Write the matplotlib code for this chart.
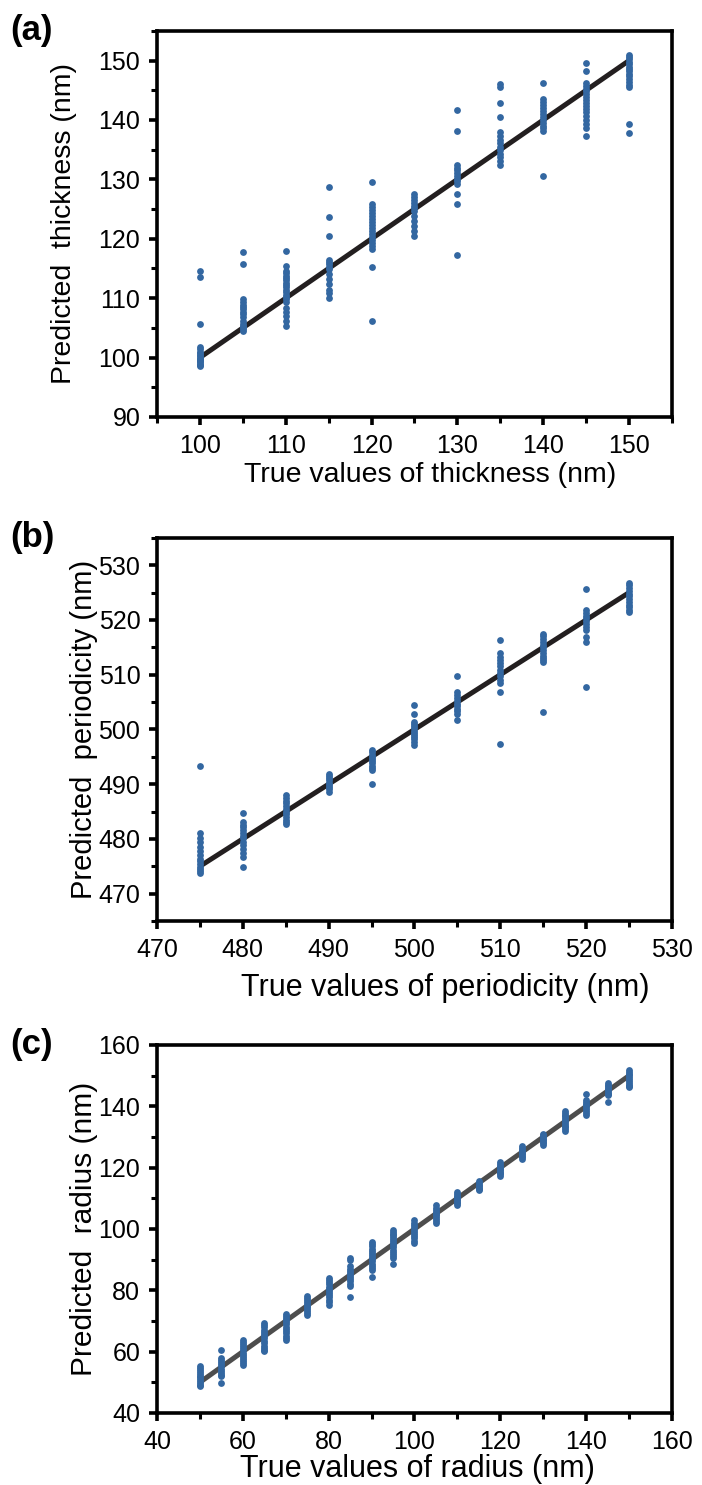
import matplotlib
matplotlib.use("Agg")
import matplotlib.pyplot as plt
from matplotlib.ticker import MultipleLocator

plt.rcParams['font.family'] = ['Liberation Sans', 'DejaVu Sans']

# ---- panel (a): thickness ----
a_true = [100, 105, 110, 115, 120, 125, 130, 135, 140, 145, 150]
a_pred = [
    [114.5, 113.5, 105.7, 101.8, 101.4, 101.0, 100.7, 100.4, 100.2, 100.0, 99.8, 99.6, 99.4, 99.2, 99.0, 98.8, 98.5],
    [117.8, 115.7, 109.8, 109.3, 108.9, 108.5, 108.1, 107.7, 107.3, 106.8, 106.2, 105.7, 105.4, 105.1, 104.8, 104.5],
    [117.9, 115.4, 114.6, 114.2, 113.8, 113.4, 113.0, 112.6, 112.2, 111.8, 111.4, 111.0, 110.6, 110.2, 109.8, 109.4,
     108.3, 107.6, 107.0, 106.2, 105.3],
    [128.8, 123.6, 120.4, 116.5, 116.1, 115.7, 115.3, 114.9, 114.0, 113.2, 112.4, 111.4, 110.8, 110.0],
    [129.5, 125.8, 125.3, 124.8, 124.3, 123.8, 123.3, 122.8, 122.3, 121.8, 121.3, 120.8, 120.3, 119.8, 119.3, 118.8,
     118.3, 115.2, 106.2],
    [127.5, 127.0, 126.5, 126.0, 125.5, 125.1, 124.6, 123.8, 123.0, 122.1, 121.3, 120.4],
    [141.7, 138.2, 132.5, 132.0, 131.5, 131.0, 130.5, 130.1, 129.7, 129.2, 127.6, 125.8, 117.3],
    [146.1, 145.6, 142.8, 140.5, 137.9, 137.3, 136.7, 136.1, 135.5, 134.9, 134.3, 133.7, 133.1, 132.5],
    [146.2, 143.5, 143.0, 142.5, 142.0, 141.5, 141.0, 140.5, 140.0, 139.5, 139.0, 138.6, 138.2, 130.6],
    [149.6, 148.2, 146.3, 145.8, 145.3, 144.8, 144.3, 143.8, 143.3, 142.8, 142.3, 141.8, 141.3, 140.6, 140.0, 139.4,
     138.7, 137.3],
    [151.0, 150.6, 150.2, 149.8, 149.4, 149.0, 148.6, 148.2, 147.8, 147.4, 146.9, 146.4, 145.9, 145.5, 139.3, 137.8],
]

# ---- panel (b): periodicity ----
b_true = [475, 480, 485, 490, 495, 500, 505, 510, 515, 520, 525]
b_pred = [
    [493.3, 481.0, 480.2, 479.4, 478.6, 477.8, 477.0, 476.4, 475.9, 475.4, 474.9, 474.5, 474.1, 473.7],
    [484.8, 483.1, 482.6, 482.1, 481.6, 481.1, 480.6, 480.1, 479.5, 478.9, 478.2, 477.5, 476.7, 474.9],
    [488.0, 487.5, 487.0, 486.5, 486.0, 485.5, 485.0, 484.5, 484.0, 483.5, 483.1, 482.8],
    [491.9, 491.5, 491.1, 490.7, 490.3, 489.9, 489.5, 489.1, 488.6],
    [496.2, 495.8, 495.4, 495.0, 494.6, 494.2, 493.8, 493.4, 493.0, 492.5, 490.1],
    [504.5, 502.9, 501.4, 501.0, 500.6, 500.2, 499.8, 499.4, 499.0, 498.6, 498.2, 497.7, 497.1],
    [509.8, 506.9, 506.2, 505.7, 505.2, 504.7, 504.2, 503.7, 503.3, 502.9, 501.7],
    [516.4, 513.9, 513.3, 512.7, 512.1, 511.5, 510.9, 510.3, 509.7, 509.1, 508.4, 506.9, 497.4],
    [517.5, 517.0, 516.5, 516.0, 515.5, 515.0, 514.5, 514.0, 513.5, 513.0, 512.6, 512.3, 503.1],
    [525.7, 521.8, 521.3, 520.8, 520.3, 519.8, 519.3, 518.7, 518.1, 516.9, 516.0, 507.8],
    [526.8, 526.3, 525.8, 525.3, 524.8, 524.3, 523.8, 523.3, 522.8, 522.3, 521.9, 521.5],
]

# ---- panel (c): radius ----
c_true = [50, 55, 60, 65, 70, 75, 80, 85, 90, 95, 100, 105, 110, 115, 120, 125, 130, 135, 140, 145, 150]
c_pred = [
    [55.2, 54.6, 54.0, 53.4, 52.8, 52.2, 51.6, 51.0, 50.4, 49.8, 49.2, 48.7],
    [60.7, 58.0, 57.3, 56.6, 55.9, 55.2, 54.5, 53.8, 53.1, 52.5, 52.0, 49.8],
    [63.9, 63.2, 62.5, 61.8, 61.1, 60.4, 59.7, 59.0, 58.3, 57.6, 56.9, 56.3, 55.8],
    [69.3, 68.6, 67.9, 67.2, 66.5, 65.8, 65.1, 64.4, 63.6, 62.8, 62.0, 61.2, 60.6, 60.1],
    [72.4, 71.7, 71.0, 70.3, 69.6, 68.9, 68.2, 67.5, 66.8, 66.0, 65.2, 64.5, 63.9],
    [78.0, 77.4, 76.8, 76.2, 75.6, 75.0, 74.4, 73.8, 73.2, 72.6, 72.1],
    [84.0, 83.3, 82.6, 81.9, 81.2, 80.5, 79.8, 79.1, 78.4, 77.7, 77.0, 76.2, 75.3],
    [90.7, 90.0, 87.8, 87.1, 86.4, 85.7, 85.0, 84.3, 83.6, 82.9, 82.1, 81.3, 77.7],
    [95.6, 95.0, 94.3, 93.6, 92.9, 92.2, 91.5, 90.8, 90.1, 89.4, 88.7, 88.0, 87.3, 86.7, 84.5],
    [99.7, 99.1, 98.5, 97.9, 97.3, 96.7, 96.1, 95.4, 94.7, 94.0, 93.3, 92.6, 91.9, 91.2, 90.5, 88.6],
    [102.8, 101.9, 101.2, 100.5, 99.8, 99.1, 98.4, 97.7, 97.0, 96.2, 95.4],
    [107.9, 106.8, 106.2, 105.6, 105.0, 104.4, 103.8, 103.2, 102.5, 101.9],
    [111.9, 111.4, 110.9, 110.4, 109.9, 109.4, 108.9, 108.4, 107.9],
    [115.5, 115.0, 114.5, 114.0, 113.5, 113.0, 112.6],
    [121.7, 121.2, 120.7, 120.2, 119.7, 119.2, 118.7, 118.2, 117.8, 117.4],
    [126.9, 126.4, 125.9, 125.4, 124.9, 124.4, 123.9, 123.4, 122.8],
    [131.0, 130.5, 130.0, 129.5, 129.0, 128.5, 128.0, 127.4],
    [138.5, 137.9, 137.3, 136.7, 136.1, 135.5, 134.9, 134.3, 133.7, 133.1, 132.5, 132.0],
    [143.9, 142.1, 141.5, 140.9, 140.3, 139.7, 139.1, 138.5, 137.9, 137.2],
    [147.5, 147.0, 146.5, 146.0, 145.5, 145.0, 144.5, 144.0, 143.7, 141.3],
    [151.9, 151.3, 150.7, 150.1, 149.5, 148.9, 148.3, 147.7, 147.1, 146.6, 146.2],
]

DOT = '#3367a1'


def panel(ax, true, pred, line_color, xlim, ylim, major, xlabel, ylabel, letter,
          ylab_x, xlab_x, xpad, tick_fs, xlab_fs, ylab_fs):
    for t, vals in zip(true, pred):
        ax.scatter([t] * len(vals), vals, s=24, color=DOT, linewidths=0, zorder=3)
    # ideal prediction line y = x
    ax.plot([true[0], true[-1]], [true[0], true[-1]], color=line_color, lw=3.6,
            solid_capstyle='butt', zorder=2)
    ax.set_xlim(*xlim)
    ax.set_ylim(*ylim)
    ax.xaxis.set_major_locator(MultipleLocator(major))
    ax.xaxis.set_minor_locator(MultipleLocator(major / 2))
    ax.yaxis.set_major_locator(MultipleLocator(major))
    ax.yaxis.set_minor_locator(MultipleLocator(major / 2))
    for s in ax.spines.values():
        s.set_linewidth(2.6)
    ax.tick_params(which='major', direction='out', length=6, width=2.6, labelsize=tick_fs, pad=6)
    ax.tick_params(which='minor', direction='out', length=4, width=2.2)
    ax.set_xlabel(xlabel, fontsize=xlab_fs, labelpad=xpad)
    ax.xaxis.label.set_x(xlab_x)
    ax.set_ylabel(ylabel, fontsize=ylab_fs)
    ax.yaxis.set_label_coords(ylab_x, 0.5)
    ax.text(-0.285, 1.0, letter, transform=ax.transAxes, fontsize=25, fontweight='bold',
            ha='left', va='center')


fig = plt.figure(figsize=(7.02, 14.85), dpi=100)
ax1 = fig.add_axes([0.2236, 0.7192, 0.7336, 0.2600])
ax2 = fig.add_axes([0.2236, 0.3798, 0.7336, 0.2580])
ax3 = fig.add_axes([0.2236, 0.0485, 0.7336, 0.2478])

panel(ax1, a_true, a_pred, '#231f20', (95, 155), (90, 155), 10,
      'True values of thickness (nm)', 'Predicted  thickness (nm)', '(a)',
      -0.155, 0.53, 3, 18, 20.5, 20.5)
panel(ax2, b_true, b_pred, '#231f20', (470, 530), (465, 535), 10,
      'True values of periodicity (nm)', 'Predicted  periodicity (nm)', '(b)',
      -0.115, 0.56, 8, 18, 22, 21)
panel(ax3, c_true, c_pred, '#4d4d4d', (40, 160), (40, 160), 20,
      'True values of radius (nm)', 'Predicted  radius (nm)', '(c)',
      -0.115, 0.505, 0, 18, 22, 21.5)

fig.savefig('out.png', dpi=100)
